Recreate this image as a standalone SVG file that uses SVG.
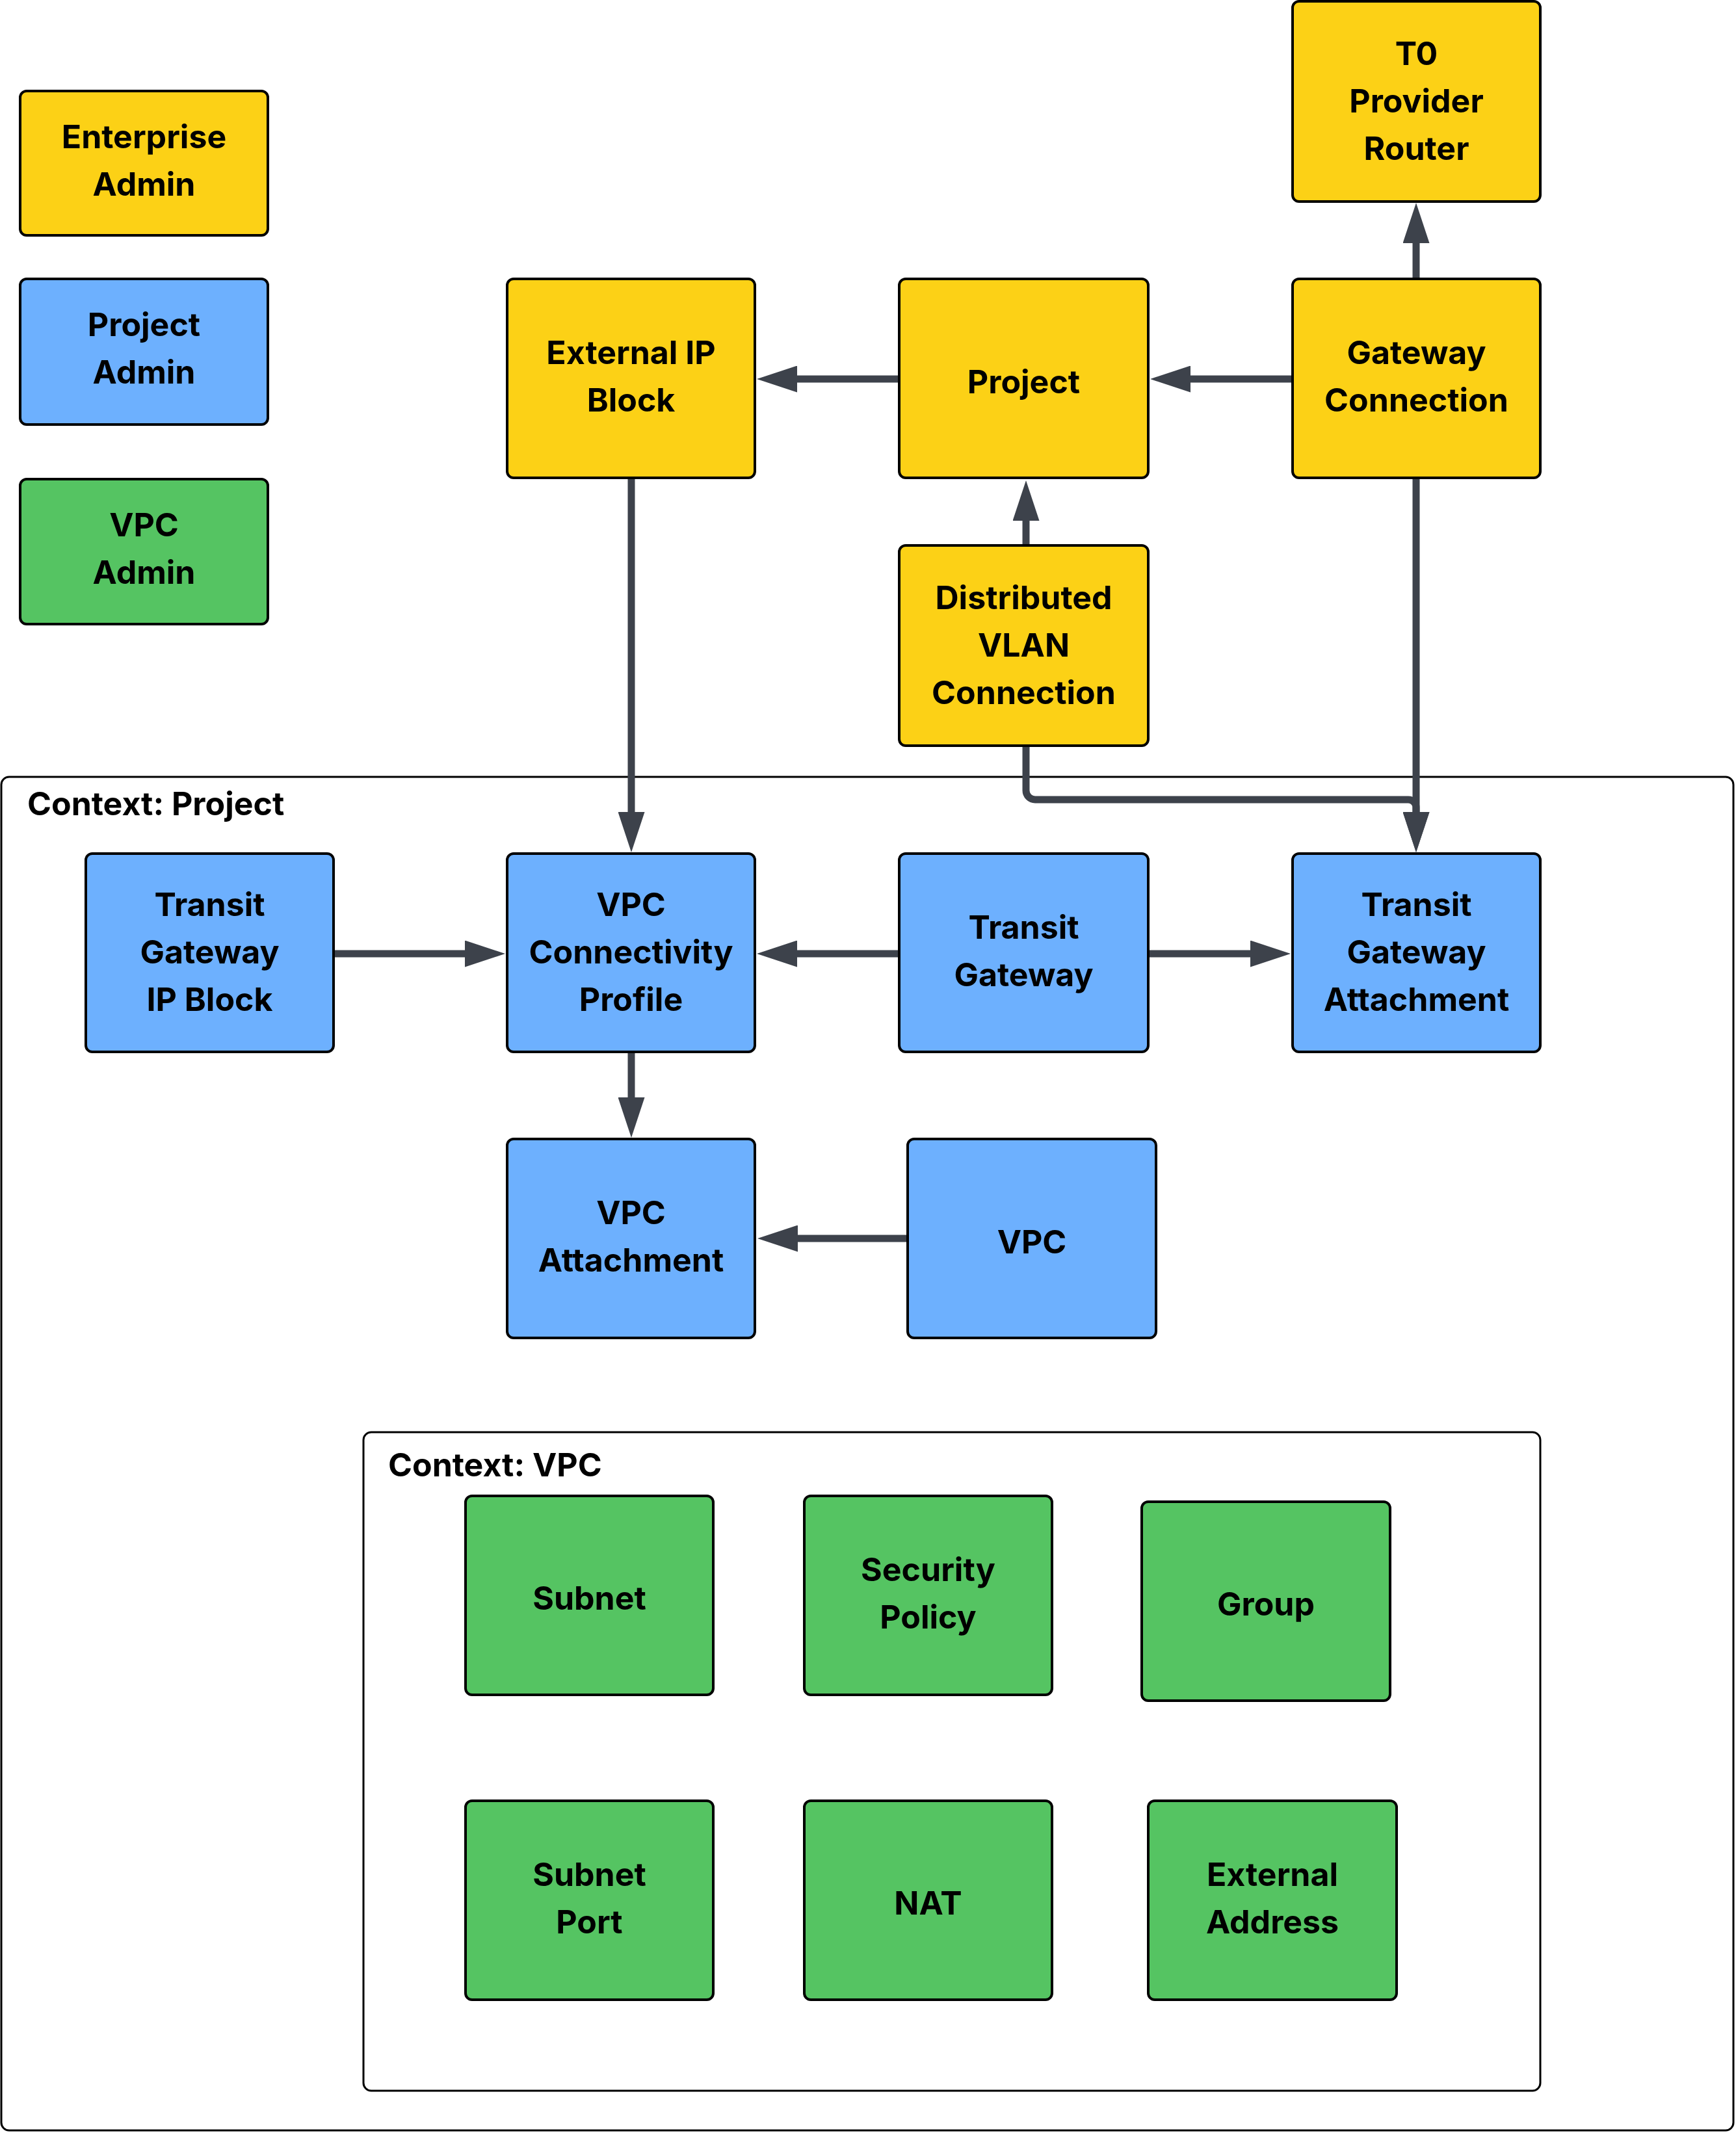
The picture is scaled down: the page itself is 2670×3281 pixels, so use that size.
<svg xmlns="http://www.w3.org/2000/svg" width="2670" height="3281" viewBox="0 0 2670 3281">
<defs>
<style>
.node rect{stroke:#000;stroke-width:4}
.y rect{fill:#FCD116}
.b rect{fill:#6DB0FE}
.g rect{fill:#55C462}
text{font-family:Inter,"Liberation Sans",sans-serif;font-weight:700;font-size:50px;fill:#000}
.node text{text-anchor:middle}
.ctx{fill:#fff;stroke:#000;stroke-width:3}
.edge{fill:none;stroke:#3D424B;stroke-width:11;marker-end:url(#ah)}
</style>
<marker id="ah" viewBox="0 0 62 41" markerWidth="62" markerHeight="41" refX="1" refY="20.5" orient="auto" markerUnits="userSpaceOnUse">
<path d="M0,0 L62,20.5 L0,41 z" fill="#3D424B"/>
</marker>
</defs>
<rect width="2670" height="3281" fill="#fff"/>

<g id="ctx-project">
<rect class="ctx" x="2" y="1195" width="2664" height="2082" rx="12"/>
<text x="42" y="1254">Context: Project</text>
</g>
<g id="ctx-vpc">
<rect class="ctx" x="559" y="2203" width="1810" height="1013" rx="12"/>
<text x="597" y="2271">Context: VPC</text>
</g>

<g id="connectors">
<path class="edge" d="M2178,428 V373"/>
<path class="edge" d="M1988,583 H1830"/>
<path class="edge" d="M1383,583 H1225"/>
<path class="edge" d="M1578,839 V800"/>
<path class="edge" d="M971,734 V1250"/>
<path class="edge" d="M2178,734 V1250"/>
<path class="edge" d="M1578,1147 V1216 a14,14 0 0 0 14,14 H2166 a12,12 0 0 1 12,12 V1250"/>
<path class="edge" d="M513,1467 H716"/>
<path class="edge" d="M1383,1467 H1225"/>
<path class="edge" d="M1766,1467 H1924"/>
<path class="edge" d="M971,1618 V1689"/>
<path class="edge" d="M1396,1905 H1226"/>
</g>

<g id="legend-enterprise-admin" class="node y">
<rect x="31" y="140" width="381" height="222" rx="10"/>
<text x="221.5" y="228">Enterprise</text><text x="221.5" y="301">Admin</text>
</g>
<g id="legend-project-admin" class="node b">
<rect x="31" y="429" width="381" height="224" rx="10"/>
<text x="221.5" y="517">Project</text><text x="221.5" y="590">Admin</text>
</g>
<g id="legend-vpc-admin" class="node g">
<rect x="31" y="737" width="381" height="223" rx="10"/>
<text x="221.5" y="825">VPC</text><text x="221.5" y="898">Admin</text>
</g>

<g id="t0-provider-router" class="node y">
<rect x="1988" y="2" width="381" height="308" rx="10"/>
<text x="2178.5" y="100">T0</text><text x="2178.5" y="173">Provider</text><text x="2178.5" y="246">Router</text>
</g>
<g id="external-ip-block" class="node y">
<rect x="780" y="429" width="381" height="306" rx="10"/>
<text x="970.5" y="560">External IP</text><text x="970.5" y="633">Block</text>
</g>
<g id="project" class="node y">
<rect x="1383" y="429" width="383" height="306" rx="10"/>
<text x="1574.5" y="605">Project</text>
</g>
<g id="gateway-connection" class="node y">
<rect x="1988" y="429" width="381" height="306" rx="10"/>
<text x="2178.5" y="560">Gateway</text><text x="2178.5" y="633">Connection</text>
</g>
<g id="distributed-vlan-connection" class="node y">
<rect x="1383" y="839" width="383" height="308" rx="10"/>
<text x="1574.5" y="937">Distributed</text><text x="1574.5" y="1010">VLAN</text><text x="1574.5" y="1083">Connection</text>
</g>

<g id="transit-gateway-ip-block" class="node b">
<rect x="132" y="1313" width="381" height="305" rx="10"/>
<text x="322.5" y="1409">Transit</text><text x="322.5" y="1482">Gateway</text><text x="322.5" y="1555">IP Block</text>
</g>
<g id="vpc-connectivity-profile" class="node b">
<rect x="780" y="1313" width="381" height="305" rx="10"/>
<text x="970.5" y="1409">VPC</text><text x="970.5" y="1482">Connectivity</text><text x="970.5" y="1555">Profile</text>
</g>
<g id="transit-gateway" class="node b">
<rect x="1383" y="1313" width="383" height="305" rx="10"/>
<text x="1574.5" y="1444">Transit</text><text x="1574.5" y="1517">Gateway</text>
</g>
<g id="transit-gateway-attachment" class="node b">
<rect x="1988" y="1313" width="381" height="305" rx="10"/>
<text x="2178.5" y="1409">Transit</text><text x="2178.5" y="1482">Gateway</text><text x="2178.5" y="1555">Attachment</text>
</g>
<g id="vpc-attachment" class="node b">
<rect x="780" y="1752" width="381" height="306" rx="10"/>
<text x="970.5" y="1883">VPC</text><text x="970.5" y="1956">Attachment</text>
</g>
<g id="vpc" class="node b">
<rect x="1396" y="1752" width="382" height="306" rx="10"/>
<text x="1587" y="1928">VPC</text>
</g>

<g id="subnet" class="node g">
<rect x="716" y="2301" width="381" height="306" rx="10"/>
<text x="906.5" y="2476">Subnet</text>
</g>
<g id="security-policy" class="node g">
<rect x="1237" y="2301" width="381" height="306" rx="10"/>
<text x="1427.5" y="2432">Security</text><text x="1427.5" y="2505">Policy</text>
</g>
<g id="group" class="node g">
<rect x="1756" y="2310" width="382" height="306" rx="10"/>
<text x="1947" y="2485">Group</text>
</g>
<g id="subnet-port" class="node g">
<rect x="716" y="2770" width="381" height="306" rx="10"/>
<text x="906.5" y="2901">Subnet</text><text x="906.5" y="2974">Port</text>
</g>
<g id="nat" class="node g">
<rect x="1237" y="2770" width="381" height="306" rx="10"/>
<text x="1427.5" y="2945">NAT</text>
</g>
<g id="external-address" class="node g">
<rect x="1766" y="2770" width="382" height="306" rx="10"/>
<text x="1957" y="2901">External</text><text x="1957" y="2974">Address</text>
</g>
</svg>
